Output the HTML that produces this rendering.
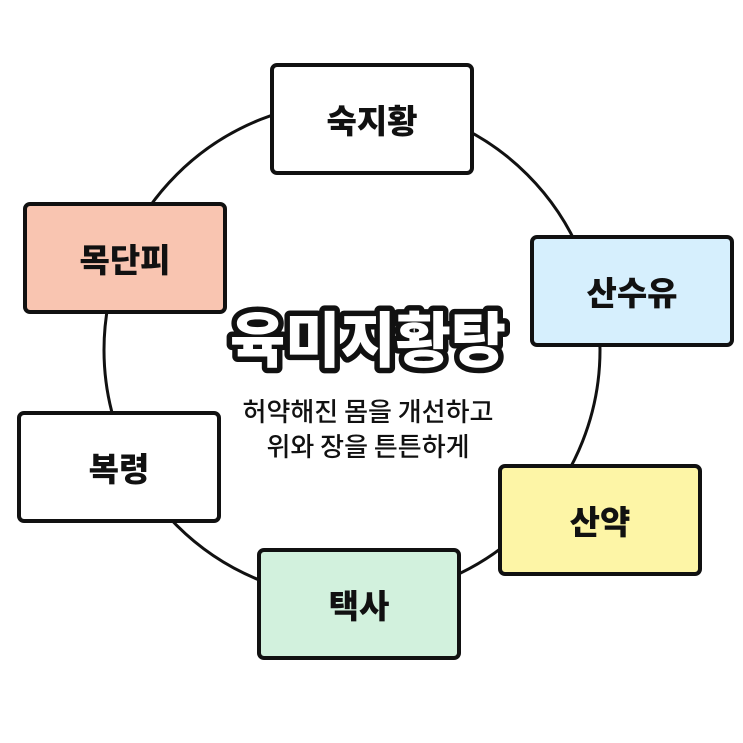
<!DOCTYPE html>
<html><head><meta charset="utf-8"><style>
body{margin:0;background:#fff;width:743px;height:743px;overflow:hidden;position:relative;font-family:"Liberation Sans","Noto Sans CJK KR",sans-serif}
.b{position:absolute;width:196px;height:104px;border:4px solid #111;border-radius:7px;display:flex;align-items:center;justify-content:center;font-size:33px;font-weight:900;color:#111;box-sizing:content-box;font-family:"Noto Sans CJK KR",sans-serif}
</style></head><body>
<svg width="743" height="743" style="position:absolute;left:0;top:0">
<circle cx="352" cy="350" r="248" fill="none" stroke="#111" stroke-width="3"/>
<text x="368" y="362" text-anchor="middle" font-family="Noto Sans CJK KR,sans-serif" font-weight="900" font-size="60" fill="#fff" stroke="#111" stroke-width="11" stroke-linejoin="round" paint-order="stroke">육미지황탕</text>
<text x="368" y="421" text-anchor="middle" font-family="Noto Sans CJK KR,sans-serif" font-size="26" font-weight="500" fill="#111">허약해진 몸을 개선하고</text>
<text x="368" y="456" text-anchor="middle" font-family="Noto Sans CJK KR,sans-serif" font-size="26" font-weight="500" fill="#111">위와 장을 튼튼하게</text>
</svg>
<div class="b" style="left:270px;top:63px;background:#fff">숙지황</div>
<div class="b" style="left:530px;top:235px;background:#d6effd">산수유</div>
<div class="b" style="left:498px;top:464px;background:#fdf5a6">산약</div>
<div class="b" style="left:257px;top:548px;background:#d2f1dd">택사</div>
<div class="b" style="left:17px;top:411px;background:#fff">복령</div>
<div class="b" style="left:23px;top:202px;background:#f9c5b1">목단피</div>
</body></html>
